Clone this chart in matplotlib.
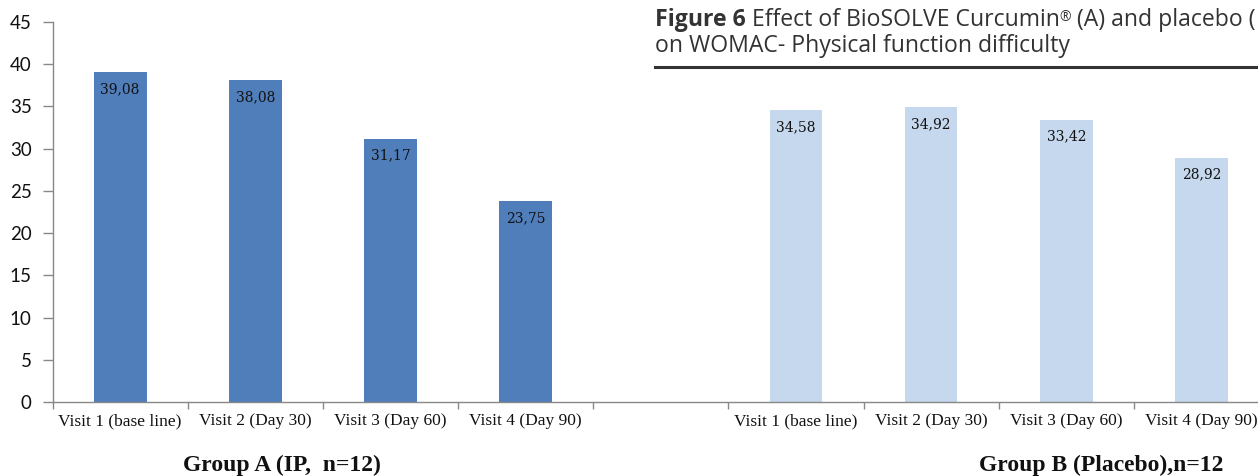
import matplotlib
matplotlib.use("Agg")
import matplotlib.pyplot as plt
import numpy as np

# Visit labels and WOMAC physical-function difficulty scores
visits = ["Visit 1 (base line)", "Visit 2 (Day 30)", "Visit 3 (Day 60)", "Visit 4 (Day 90)"]
group_a = [39.08, 38.08, 31.17, 23.75]
group_b = [34.58, 34.92, 33.42, 28.92]
group_a_name = "Group A (IP,  n=12)"
group_b_name = "Group B (Placebo),n=12"
y_ticks = [0, 5, 10, 15, 20, 25, 30, 35, 40, 45]

color_a = "#4F7EBB"
color_b = "#C6D8ED"

fig = plt.figure(figsize=(12.58, 4.76), dpi=100)
ax = fig.add_axes([52.6 / 1258, 74 / 476, (1269 - 52.6) / 1258, 380 / 476])

# nine category slots: four visits, an empty gap, four visits
labels = visits + [""] + visits
values = group_a + [np.nan] + group_b
colors = [color_a] * 4 + ["none"] + [color_b] * 4
pos = np.arange(len(labels)) + 0.5

ax.bar(pos, values, width=0.39, color=colors, edgecolor="none")

for x, v in zip(pos, values):
    if np.isnan(v):
        continue
    ax.text(x, v - 2.0, f"{v:.2f}".replace(".", ","), ha="center", va="center",
            fontsize=10, family="DejaVu Serif", color="#111111")

ax.set_xlim(0, len(labels))
ax.set_ylim(0, 45)
ax.set_yticks(y_ticks)
ax.set_yticklabels([str(t) for t in y_ticks], fontsize=13.5, family="Lato", color="#111111")
ax.tick_params(axis="y", length=7, width=1, color="#888888", pad=8)

ax.set_xticks(np.arange(len(labels) + 1))
ax.set_xticklabels([])
ax.tick_params(axis="x", which="major", length=5, width=1, color="#888888")
ax.set_xticks(pos, minor=True)
ax.set_xticklabels(labels, minor=True, fontsize=12.5, family="Liberation Serif", color="#111111")
ax.tick_params(axis="x", which="minor", length=0, pad=8)

for s in ["top", "right"]:
    ax.spines[s].set_visible(False)
for s in ["left", "bottom"]:
    ax.spines[s].set_color("#888888")
    ax.spines[s].set_linewidth(1)

# group captions under the axis
fig.text(282 / 1258, 1 - 465 / 476, group_a_name, ha="center", va="center",
         fontsize=17, fontweight="bold", family="Liberation Serif", color="#111111")
fig.text(1101 / 1258, 1 - 465 / 476, group_b_name, ha="center", va="center",
         fontsize=17, fontweight="bold", family="Liberation Serif", color="#111111")

# figure caption (pieces laid out left to right) with rule beneath
cap_size = 16.6
cap_color = "#333333"
W, H = fig.bbox.width, fig.bbox.height
pieces = [
    ("Figure 6 ", dict(fontweight="bold"), 0.0),
    ("Effect of BioSOLVE Curcumin", {}, 0.0),
    ("\u00ae", dict(fontsize=cap_size * 0.6), 5.0),
    (" (A) and placebo (", {}, 0.0),
]
x_px = 655.0
fig.canvas.draw()
renderer = fig.canvas.get_renderer()
for txt, kw, rise in pieces:
    props = dict(fontsize=cap_size, family="Open Sans", color=cap_color)
    props.update(kw)
    t = fig.text(x_px / W, 1 - (26 + 0 - rise) / H, txt, ha="left", va="baseline", **props)
    x_px = t.get_window_extent(renderer).x1
fig.text(655 / W, 1 - 52 / H, "on WOMAC- Physical function difficulty", ha="left",
         va="baseline", fontsize=cap_size, family="Open Sans", color=cap_color)
fig.add_artist(plt.Line2D([655 / W, 1.0], [1 - 66.5 / H, 1 - 66.5 / H],
                          transform=fig.transFigure, color=cap_color, linewidth=2.2))

fig.savefig("out.png", dpi=100)
